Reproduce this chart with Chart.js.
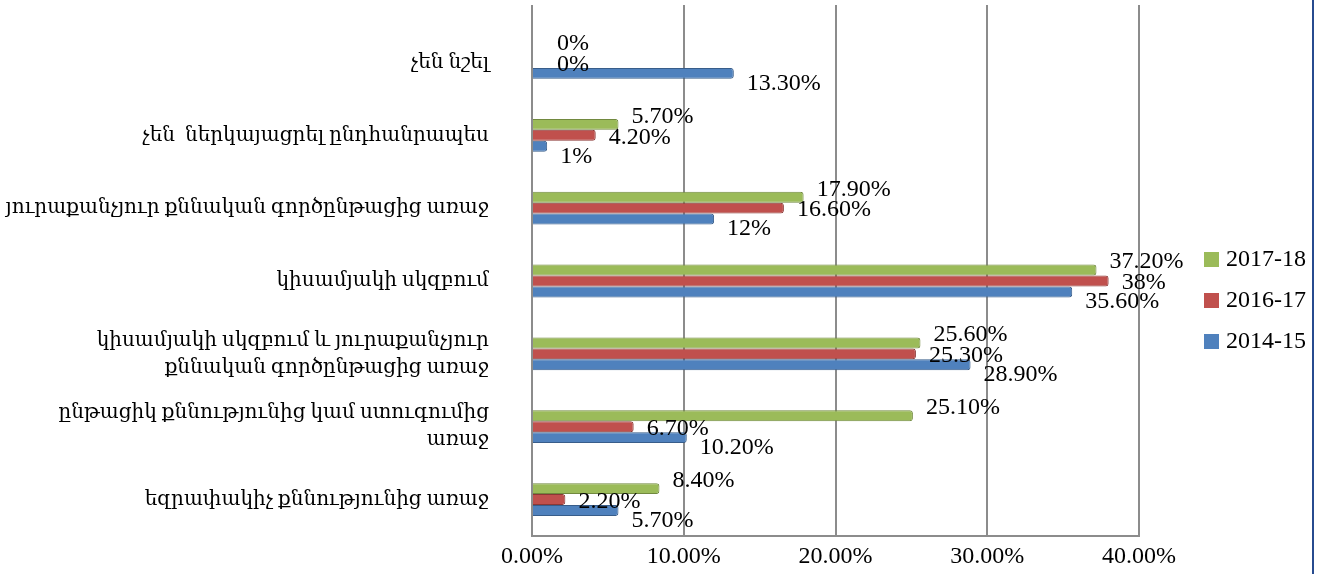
<!DOCTYPE html>
<html>
<head>
<meta charset="utf-8">
<script src="https://cdn.jsdelivr.net/npm/chart.js@4.4.1/dist/chart.umd.min.js"></script>
<style>
  html, body { margin: 0; padding: 0; background: #fff; }
  #wrap { position: relative; width: 1312px; height: 574px; border-right: 2px solid #274b8f; }
  #legend { position: absolute; left: 1204px; top: 242px; font: 24px 'Liberation Serif', 'DejaVu Serif', serif; color: #000; }
  #legend div { height: 41px; line-height: 32px; white-space: nowrap; }
  #legend span.box { display: inline-block; width: 15px; height: 15px; margin-right: 7px; vertical-align: -1px; }
</style>
</head>
<body>
<div id="wrap"><canvas id="myChart"></canvas><div id="legend"></div></div>
<script>
// categories, top to bottom
var categories = [
  "չեն նշել",
  "չեն  ներկայացրել ընդհանրապես",
  "յուրաքանչյուր քննական գործընթացից առաջ",
  "կիսամյակի սկզբում",
  ["կիսամյակի սկզբում և յուրաքանչյուր", "քննական գործընթացից առաջ"],
  ["ընթացիկ քննությունից կամ ստուգումից", "առաջ"],
  "եզրափակիչ քննությունից առաջ"
];
var seriesNames = ["2017-18", "2016-17", "2014-15"];
var values1718 = [0, 5.7, 17.9, 37.2, 25.6, 25.1, 8.4];
var values1617 = [0, 4.2, 16.6, 38, 25.3, 6.7, 2.2];
var values1415 = [13.3, 1, 12, 35.6, 28.9, 10.2, 5.7];
var xTicks = [0, 10, 20, 30, 40];

var FONT = "'Liberation Serif', 'DejaVu Serif', serif";
var GRID = "#8c8c8c";

function pct(v) {
  return (Math.round(v) === v ? v : v.toFixed(2)) + "%";
}

// the back wall lines run a little higher than the bars area
var wallTop = {
  id: "wallTop",
  afterDraw: function(chart) {
    var ctx = chart.ctx;
    var xs = chart.scales.x;
    ctx.save();
    ctx.strokeStyle = GRID;
    ctx.lineWidth = 2;
    xTicks.forEach(function(v) {
      var px = Math.round(xs.getPixelForValue(v));
      ctx.beginPath();
      ctx.moveTo(px, 5);
      ctx.lineTo(px, chart.chartArea.top + 1);
      ctx.stroke();
    });
    ctx.restore();
  }
};

// value labels next to each bar end
var barLabels = {
  id: "barLabels",
  afterDatasetsDraw: function(chart) {
    var ctx = chart.ctx;
    var shiftY = [-8, 2, 10];
    ctx.save();
    ctx.font = "24px " + FONT;
    ctx.fillStyle = "#000";
    ctx.textAlign = "left";
    ctx.textBaseline = "middle";
    chart.data.datasets.forEach(function(ds, i) {
      var meta = chart.getDatasetMeta(i);
      meta.data.forEach(function(bar, j) {
        var extra = ds.data[j] === 0 ? 12 : 0;
        ctx.fillText(pct(ds.data[j]), bar.x + 13 + extra, bar.y + shiftY[i]);
      });
    });
    ctx.restore();
  }
};

var ctx = document.getElementById("myChart").getContext("2d");
window.myBarChart = new Chart(ctx, {
  type: "bar",
  data: {
    labels: categories,
    datasets: [
      {
        label: seriesNames[0],
        data: values1718,
        backgroundColor: "#9bbb59",
        borderColor: "#71893f",
        borderWidth: 1,
        borderRadius: 3
      },
      {
        label: seriesNames[1],
        data: values1617,
        backgroundColor: "#c0504d",
        borderColor: "#8c3836",
        borderWidth: 1,
        borderRadius: 3
      },
      {
        label: seriesNames[2],
        data: values1415,
        backgroundColor: "#4f81bd",
        borderColor: "#385d8a",
        borderWidth: 1,
        borderRadius: 3
      }
    ]
  },
  options: {
    indexAxis: "y",
    responsive: true,
    maintainAspectRatio: false,
    animation: false,
    layout: { padding: { top: 26, right: 173, bottom: 0, left: 0 } },
    datasets: {
      bar: { barPercentage: 1, categoryPercentage: 0.45 }
    },
    scales: {
      x: {
        min: 0,
        max: 40,
        afterBuildTicks: function(scale) {
          scale.ticks = xTicks.map(function(v) { return { value: v }; });
        },
        afterFit: function(scale) { scale.height = 38; },
        grid: { color: GRID, lineWidth: 2, drawTicks: false },
        border: { color: GRID, width: 2 },
        ticks: {
          padding: 6,
          color: "#000",
          font: { family: FONT, size: 24 },
          callback: function(v) { return v.toFixed(2) + "%"; }
        }
      },
      y: {
        afterFit: function(scale) {
          scale.width = 532;
          scale.paddingTop = 0;
          scale.paddingBottom = 0;
        },
        grid: { display: false, drawTicks: false },
        border: { color: GRID, width: 2 },
        ticks: {
          padding: 43,
          color: "#000",
          font: { family: FONT, size: 20, lineHeight: 1.35 }
        }
      }
    },
    plugins: {
      legend: { display: false },
      tooltip: { enabled: false }
    }
  },
  plugins: [wallTop, barLabels]
});

// legend, same order as the datasets
var legendEl = document.getElementById("legend");
window.myBarChart.data.datasets.forEach(function(ds) {
  var row = document.createElement("div");
  row.innerHTML = '<span class="box" style="background:' + ds.backgroundColor + '"></span>' + ds.label;
  legendEl.appendChild(row);
});
</script>
</body>
</html>
